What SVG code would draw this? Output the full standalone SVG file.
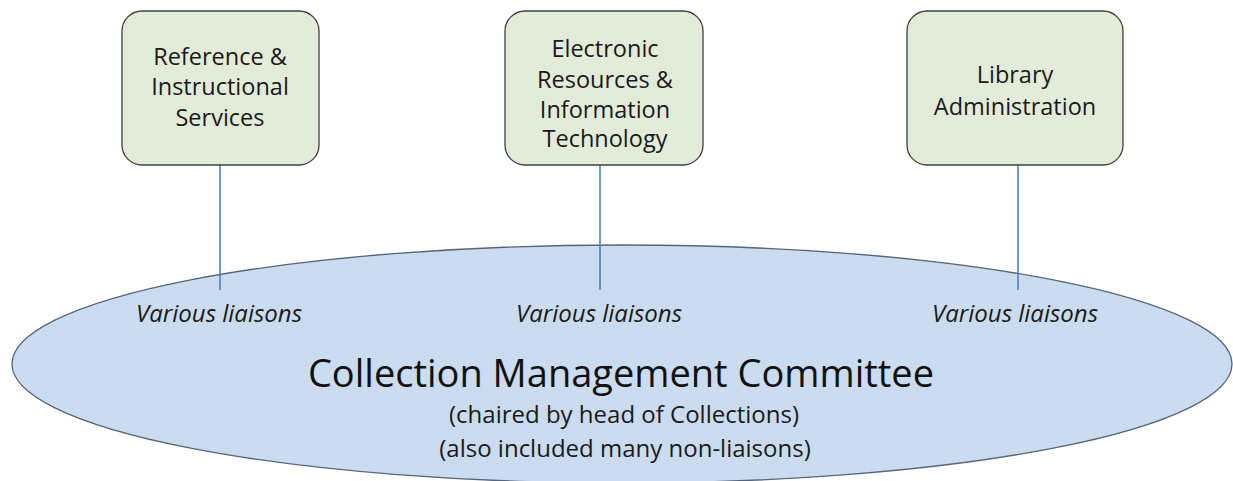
<svg xmlns="http://www.w3.org/2000/svg" width="1233" height="481" viewBox="0 0 1233 481">
  <style>
    .box { fill: #e3ebd9; stroke: #3f3f3f; stroke-width: 1.3; }
    .lbl { font-family: "Open Sans", "Noto Sans", sans-serif; font-size: 23.5px; fill: #1a1a1a; text-anchor: middle; }
    .liaison { font-family: "Open Sans", "Noto Sans", sans-serif; font-size: 24px; font-style: italic; fill: #1a1a1a; text-anchor: middle; }
    .title { font-family: "Open Sans", "Noto Sans", sans-serif; font-size: 38px; fill: #111; text-anchor: middle; }
    .sub { font-family: "Open Sans", "Noto Sans", sans-serif; font-size: 24px; fill: #1a1a1a; text-anchor: middle; }
    .link { stroke: #4f81bd; stroke-width: 1.6; fill: none; }
  </style>
  <rect width="1233" height="481" fill="#ffffff"/>

  <!-- committee ellipse -->
  <g id="committee">
    <ellipse cx="622" cy="364" rx="610" ry="119" fill="#cbdcf0" stroke="#56657a" stroke-width="1.3"/>
    <text class="title" x="621" y="387">Collection Management Committee</text>
    <text class="sub" x="624" y="423">(chaired by head of Collections)</text>
    <text class="sub" x="625" y="457">(also included many non-liaisons)</text>
  </g>

  <!-- connectors from each unit down into the committee -->
  <g id="connectors">
    <line class="link" x1="220" y1="165" x2="220" y2="290"/>
    <line class="link" x1="600" y1="165" x2="600" y2="290"/>
    <line class="link" x1="1018" y1="165" x2="1018" y2="290"/>
  </g>

  <g id="liaison-labels">
    <text class="liaison" x="219" y="322">Various liaisons</text>
    <text class="liaison" x="599" y="322">Various liaisons</text>
    <text class="liaison" x="1015" y="322">Various liaisons</text>
  </g>

  <g id="reference-services">
    <rect class="box" x="122" y="11" width="197" height="154" rx="20" ry="20"/>
    <text class="lbl" x="220" y="65">Reference &amp;</text>
    <text class="lbl" x="220" y="95">Instructional</text>
    <text class="lbl" x="220" y="126">Services</text>
  </g>

  <g id="electronic-resources">
    <rect class="box" x="505" y="11" width="198" height="154" rx="20" ry="20"/>
    <text class="lbl" x="605" y="57">Electronic</text>
    <text class="lbl" x="605" y="88">Resources &amp;</text>
    <text class="lbl" x="605" y="118">Information</text>
    <text class="lbl" x="605" y="147">Technology</text>
  </g>

  <g id="library-administration">
    <rect class="box" x="907" y="11" width="216" height="154" rx="20" ry="20"/>
    <text class="lbl" x="1015" y="83">Library</text>
    <text class="lbl" x="1015" y="115">Administration</text>
  </g>
</svg>
